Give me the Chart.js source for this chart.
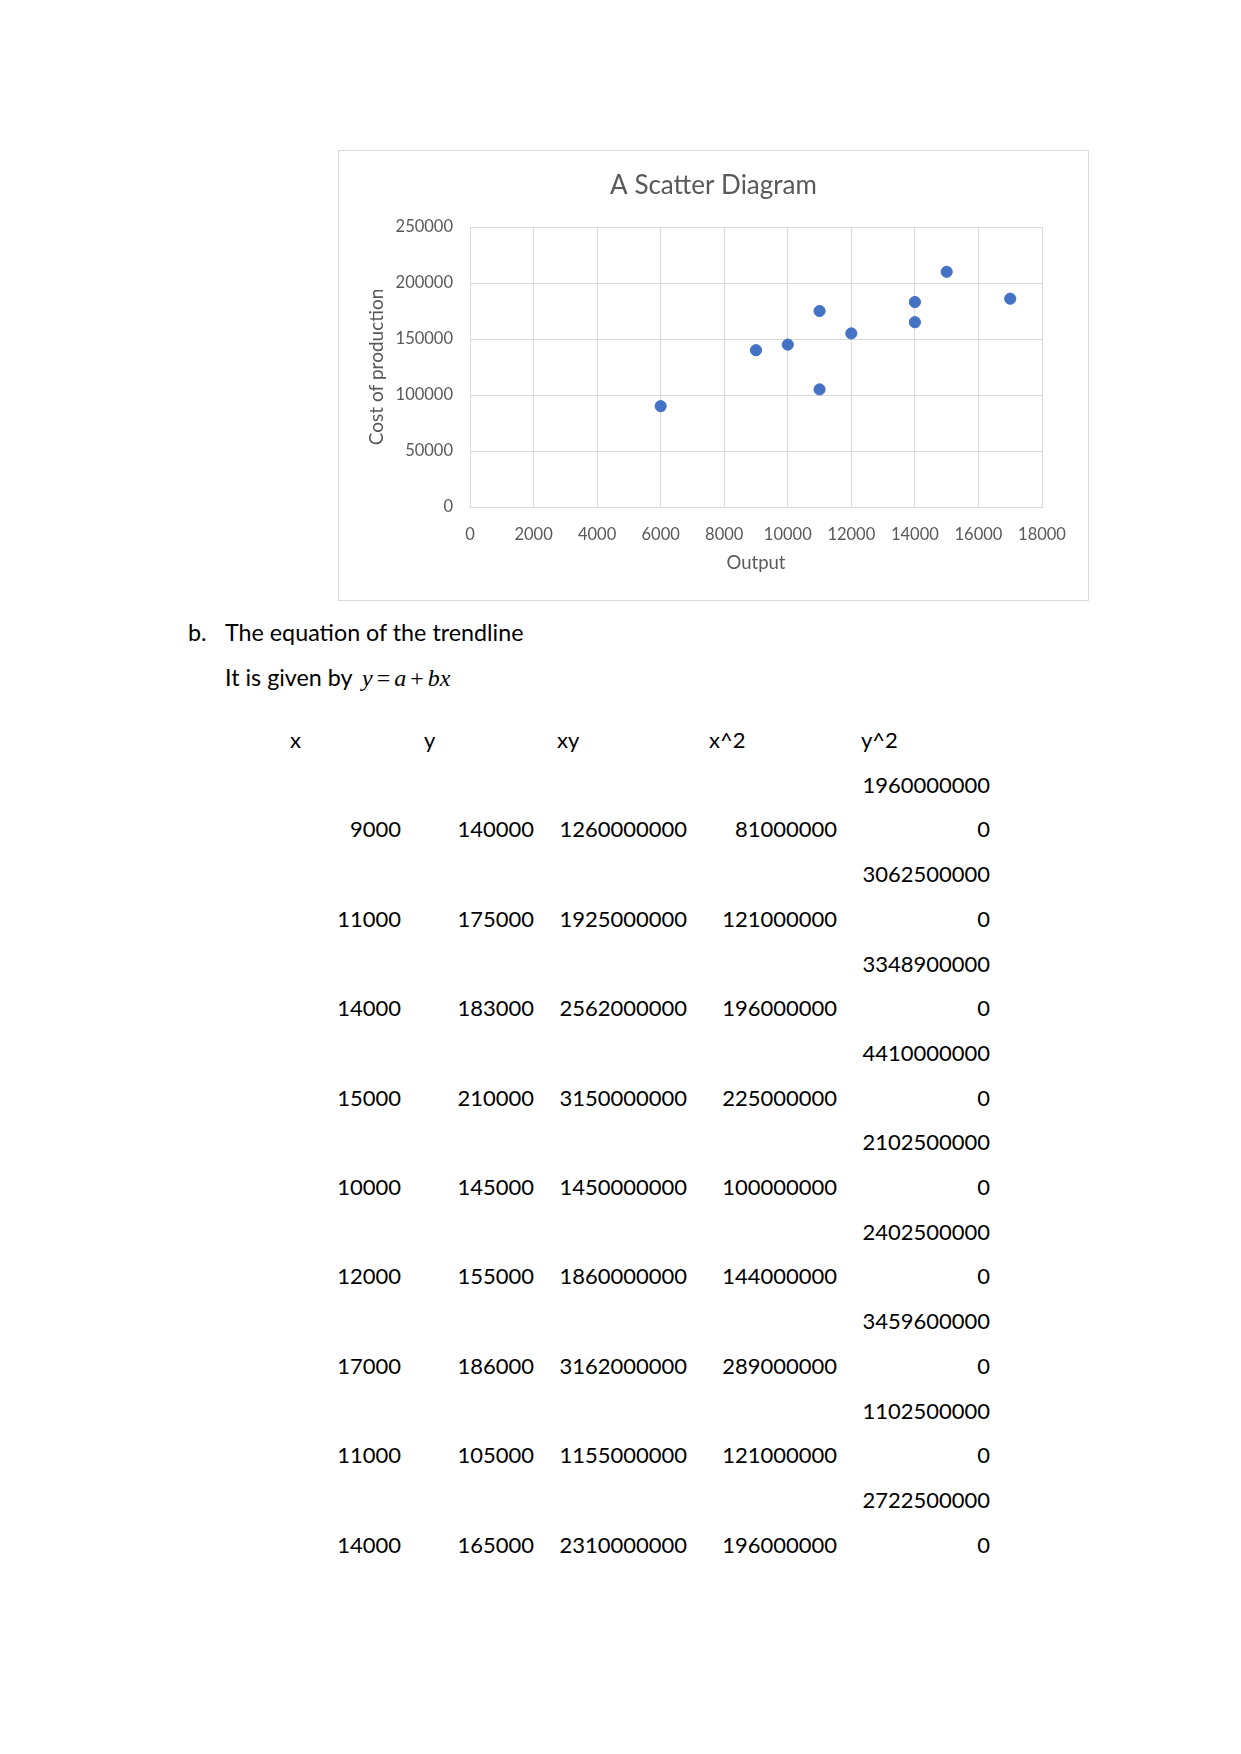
<!DOCTYPE html>
<html>
<head>
<meta charset="utf-8">
<title>A Scatter Diagram</title>
<script src="https://cdn.jsdelivr.net/npm/chart.js"></script>
<style>
  body { margin: 0; background: #fff; font-family: Lato, sans-serif; color: #000; }
  .page { position: relative; width: 1241px; height: 1754px; overflow: hidden; }
  .chart-box { position: absolute; left: 338px; top: 150px; width: 751px; height: 451px; box-sizing: border-box; border: 1px solid #d9d9d9; }
  .chart-box canvas { position: absolute; left: 0; top: 0; }
  .txt { position: absolute; font-size: 22px; line-height: 30px; white-space: nowrap; }
  .head { font-size: 23.3px; }
  .m { font-family: "Liberation Serif", "DejaVu Serif", serif; font-size: 24px; margin-left: 4px; }
  .m i { font-style: italic; }
  .op { padding: 0 4px; }
</style>
</head>
<body>
<div class="page" id="page">
  <div class="chart-box">
    <canvas id="scatter" width="749" height="449"></canvas>
  </div>
  <div class="txt head" style="left:188px; top:617px;">b.</div>
  <div class="txt head" style="left:225px; top:617px;">The equation of the trendline</div>
  <div class="txt head" style="left:225px; top:662px;">It is given by <span class="m"><i>y</i><span class="op">=</span><i>a</i><span class="op">+</span><i>bx</i></span></div>
</div>

<script>
  // data (output vs cost of production)
  const output = [6000, 9000, 11000, 14000, 15000, 10000, 12000, 17000, 11000, 14000];
  const cost = [90000, 140000, 175000, 183000, 210000, 145000, 155000, 186000, 105000, 165000];

  const xTickValues = [0, 2000, 4000, 6000, 8000, 10000, 12000, 14000, 16000, 18000];
  const yTickValues = [0, 50000, 100000, 150000, 200000, 250000];

  const tableHeaders = ['x', 'y', 'xy', 'x^2', 'y^2'];

  const grey = '#595959';
  const gridColor = '#d9d9d9';

  const points = output.map((x, i) => ({ x: x, y: cost[i] }));

  new Chart(document.getElementById('scatter').getContext('2d'), {
    type: 'scatter',
    data: {
      datasets: [{
        data: points,
        backgroundColor: '#4472C4',
        borderColor: '#4472C4',
        pointRadius: 5.6,
        pointHoverRadius: 5.6
      }]
    },
    options: {
      responsive: false,
      animation: false,
      layout: { padding: 0 },
      plugins: {
        legend: { display: false },
        tooltip: { enabled: false },
        title: {
          display: true,
          text: 'A Scatter Diagram',
          color: grey,
          font: { family: 'Lato', size: 26, weight: 'normal', lineHeight: 1.2 },
          padding: { top: 19.4, bottom: 25.4 }
        }
      },
      scales: {
        x: {
          type: 'linear',
          min: 0,
          max: 18000,
          afterBuildTicks: s => { s.ticks = xTickValues.map(v => ({ value: v })); },
          afterFit: s => { s.height = 93; },
          grid: { color: gridColor, drawTicks: false },
          border: { color: gridColor },
          ticks: {
            color: grey,
            font: { family: 'Lato', size: 16.5 },
            padding: 17.5,
            maxRotation: 0,
            autoSkip: false,
            callback: v => String(v)
          },
          title: {
            display: true,
            text: 'Output',
            color: grey,
            font: { family: 'Lato', size: 18.5, lineHeight: 1.2 },
            padding: { top: 0, bottom: 26 }
          }
        },
        y: {
          type: 'linear',
          min: 0,
          max: 250000,
          afterBuildTicks: s => { s.ticks = yTickValues.map(v => ({ value: v })); },
          afterFit: s => { s.width = 131; },
          grid: { color: gridColor, drawTicks: false },
          border: { color: gridColor },
          ticks: {
            color: grey,
            font: { family: 'Lato', size: 16.5 },
            padding: 17,
            callback: v => String(v)
          },
          title: {
            display: true,
            text: 'Cost of production',
            color: grey,
            font: { family: 'Lato', size: 19, lineHeight: 1.2 },
            padding: { top: 26.6, bottom: 0 }
          }
        },
        // empty strip on the right so the title stays centred on the whole chart
        yRight: {
          type: 'linear',
          position: 'right',
          min: 0,
          max: 250000,
          afterFit: s => { s.width = 46; },
          grid: { display: false },
          border: { display: false },
          ticks: { display: false }
        }
      }
    }
  });

  // table below the chart (first point sits on the previous page)
  const page = document.getElementById('page');
  const headLeft = [290, 424, 557, 709, 861];
  const colRight = [401, 534, 687, 837, 990];
  const rowStep = 44.7;
  const headY = 740;

  function addText(text, cy, left, right) {
    const d = document.createElement('div');
    d.className = 'txt';
    d.textContent = text;
    d.style.top = (cy - 15) + 'px';
    if (left !== null) d.style.left = left + 'px';
    else d.style.right = (1241 - right) + 'px';
    page.appendChild(d);
  }

  tableHeaders.forEach((h, c) => addText(h, headY, headLeft[c], null));

  for (let i = 1; i < output.length; i++) {
    const x = output[i], y = cost[i];
    const y2 = String(y * y);
    const topY = headY + rowStep * (2 * i - 1);
    const rowY = headY + rowStep * (2 * i);
    // y^2 is too long for its cell and wraps onto two lines
    addText(y2.slice(0, 10), topY, null, colRight[4]);
    addText(y2.slice(10), rowY, null, colRight[4]);
    addText(String(x), rowY, null, colRight[0]);
    addText(String(y), rowY, null, colRight[1]);
    addText(String(x * y), rowY, null, colRight[2]);
    addText(String(x * x), rowY, null, colRight[3]);
  }
</script>
</body>
</html>
